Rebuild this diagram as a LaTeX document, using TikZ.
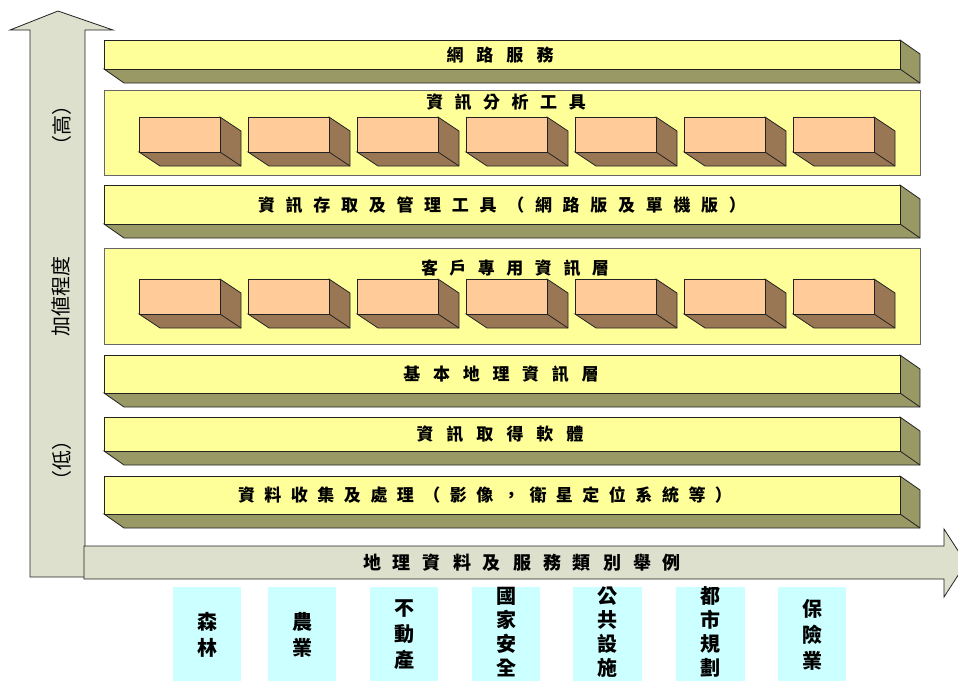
\documentclass[tikz,border=0pt]{standalone}
\usepackage{fontspec}
\setmainfont{Liberation Sans}
\newfontfamily\cjk{Noto Sans CJK TC}
\newfontfamily\cjkh{Noto Sans CJK TC Black}
\definecolor{barY}{HTML}{FFFF99}
\definecolor{barS}{HTML}{999966}
\definecolor{boxF}{HTML}{FFCC99}
\definecolor{boxS}{HTML}{997755}
\definecolor{arrF}{RGB}{221,224,204}
\definecolor{cyanB}{HTML}{CCFFFF}
\definecolor{lineC}{HTML}{222222}
\makeatletter
\newcommand\trk[2]{{\def\trk@s{}\@tfor\trk@c:=#2\do{\trk@s\trk@c\def\trk@s{\hspace*{#1}}}}}
\makeatother
\newcommand\layerbar[2]{%
  \draw[sidesty] (104,#2) -- ++(20,14) -- (920,{#2+14}) -- (920,{#1+14}) -- (900,#1) -- (900,#2) -- cycle;
  \draw[facesty] (104,#1) rectangle (900,#2);
  \draw[edgesty] (900,#2) -- ++(20,14);}
\newcommand\cube[2]{%
  \draw[cubeside] (#1,{#2+35}) -- ++(21,14) -- ({#1+102},{#2+49}) -- ({#1+102},{#2+14}) -- ({#1+81},#2) -- ({#1+81},{#2+35}) -- cycle;
  \draw[cubeface] (#1,#2) rectangle ++(81,35);
  \draw[edgesty] ({#1+81},{#2+35}) -- ++(21,14);}
\tikzset{
  facesty/.style={fill=barY, draw=lineC, line width=0.8pt},
  sidesty/.style={fill=barS, draw=lineC, line width=0.8pt},
  edgesty/.style={draw=lineC, line width=0.8pt},
  panelsty/.style={fill=barY, draw=black!60, line width=0.9pt},
  cubeface/.style={fill=boxF, draw=lineC, line width=0.8pt},
  cubeside/.style={fill=boxS, draw=lineC, line width=0.8pt},
  arrowsty/.style={fill=arrF, draw=lineC, line width=0.8pt},
  catbox/.style={fill=cyanB, draw=none},
  bartext/.style={inner sep=0pt, font=\cjkh\fontsize{17}{20}\selectfont},
  axtext/.style={inner sep=0pt, font=\cjk\fontsize{20}{22}\selectfont, rotate=90},
  htext/.style={inner sep=0pt, font=\cjk\bfseries\fontsize{18}{22}\selectfont},
  cattext/.style={inner sep=0pt, align=center, font=\cjk\bfseries\fontsize{20}{26}\selectfont},
  cattextlong/.style={inner sep=0pt, align=center, font=\cjk\bfseries\fontsize{20}{24}\selectfont},
}
\begin{document}
\begin{tikzpicture}[x=1pt,y=-1pt]
\useasboundingbox (0,0) rectangle (958,681);
\clip (0,0) rectangle (958,681);
% axes
\draw[arrowsty] (30,577) -- (30,30) -- (10,30) -- (58,11) -- (113,30) -- (85,30) -- (85,577) -- cycle;
\draw[arrowsty] (84,546) -- (944,546) -- (944,529) -- (966,563) -- (944,597) -- (944,579) -- (84,579) -- cycle;
\node[axtext] (vlab) at (61,296) {加値程度};
\node[axtext] (hi) at (62,125) {（高）};
\node[axtext] (lo) at (62,460) {（低）};
\node[htext] (hlab) at (522,563) {\trk{12pt}{地理資料及服務類別舉例}};
% layers
\layerbar{40}{69}
\node[bartext] (l1) at (500,55) {\trk{13pt}{網路服務}};
\draw[panelsty] (104,90) rectangle (920,175);
\node[bartext] (l2) at (506,102) {\trk{11.5pt}{資訊分析工具}};
\foreach \xx in {139,248,357,466,575,684,793}{\cube{\xx}{117}}
\layerbar{185}{224}
\node[bartext] (l3) at (502,205) {\trk{10.7pt}{資訊存取及管理工具（網路版及單機版）}};
\draw[panelsty] (104,248) rectangle (920,344);
\node[bartext] (l4) at (515,268) {\trk{11.5pt}{客戶專用資訊層}};
\foreach \xx in {139,248,357,466,575,684,793}{\cube{\xx}{279}}
\layerbar{355}{393}
\node[bartext] (l5) at (501,374) {\trk{12.7pt}{基本地理資訊層}};
\layerbar{417}{451}
\node[bartext] (l6) at (500,434) {\trk{13pt}{資訊取得軟體}};
\layerbar{476}{514}
\node[bartext] (l7) at (485,495) {\trk{9.5pt}{資料收集及處理（影像，衛星定位系統等）}};
% categories
\foreach \xa/\xb in {173/241,268/336,370/438,472/540,573/642,676/745,778/846}{
  \fill[catbox] (\xa,587) rectangle (\xb,681);
}
\node[cattext] (c1) at (207,635) {森\\林};
\node[cattext] (c2) at (302,635) {農\\業};
\node[cattext] (c3) at (404,635) {不\\動\\產};
\node[cattextlong] (c4) at (506,632) {國\\家\\安\\全};
\node[cattextlong] (c5) at (607.5,632) {公\\共\\設\\施};
\node[cattextlong] (c6) at (710.5,632) {都\\市\\規\\劃};
\node[cattext] (c7) at (812,635) {保\\險\\業};
\end{tikzpicture}
\end{document}
